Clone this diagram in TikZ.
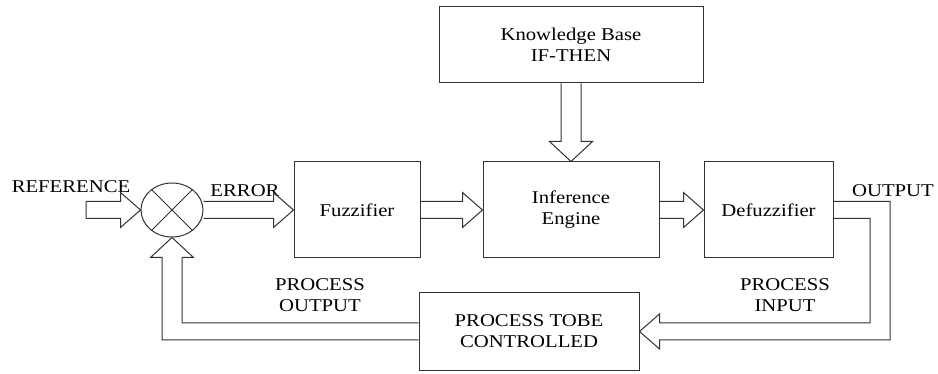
\documentclass[tikz,border=0pt]{standalone}
\usepackage{fontspec}
\setmainfont{Liberation Serif}[FakeStretch=1.15]
\usetikzlibrary{shapes.geometric,calc}

\tikzset{
    block/.style={draw=black!80, line width=1pt, inner sep=0pt, align=center,
        font=\fontsize{18}{21}\selectfont},
    sigtext/.style={inner sep=0pt, align=center, font=\fontsize{18}{21}\selectfont},
    fat/.style={draw=black!80, line width=1pt, line join=miter},
}

% hollow arrow going right, from #1 to tip #2
\newcommand{\fatright}[2]{%
    \draw[fat] ($(#1)+(0,-8.5)$) -- ($(#2)+(-20,-8.5)$) -- ($(#2)+(-20,-17.5)$) -- (#2)
        -- ($(#2)+(-20,17.5)$) -- ($(#2)+(-20,8.5)$) -- ($(#1)+(0,8.5)$);}

\begin{document}
\begin{tikzpicture}[x=1pt, y=-1pt]
    \useasboundingbox (0,0) rectangle (938,374);

    % Blocks
    \node[block, minimum width=264pt, minimum height=76pt] (kb) at (571,45) {Knowledge Base\\IF-THEN};
    \node[block, minimum width=126pt, minimum height=96pt] (fuzz) at (357,210) {Fuzzifier};
    \node[block, minimum width=176pt, minimum height=96pt] (inf) at (571,210) {Inference\\Engine};
    \node[block, minimum width=129pt, minimum height=96pt] (defuzz) at (768.5,210) {Defuzzifier};
    \node[block, minimum width=220pt, minimum height=77pt] (plant) at (529,331.5) {PROCESS TOBE\\CONTROLLED};

    % Summing point
    \node[draw=black!80, line width=1pt, ellipse, minimum width=62pt, minimum height=54pt, inner sep=0pt] (sum) at (172,210) {};
    \draw[black!80, line width=1pt] (sum.45) -- (sum.225);
    \draw[black!80, line width=1pt] (sum.135) -- (sum.315);

    % Signal labels
    \node[sigtext] (reflabel) at (71,187) {REFERENCE};
    \node[sigtext] (errlabel) at (245,190.5) {ERROR};
    \node[sigtext] (outlabel) at (893,191) {OUTPUT};
    \node[sigtext] (pout) at (320,295) {PROCESS\\OUTPUT};
    \node[sigtext] (pin) at (785,295) {PROCESS\\INPUT};

    % Forward path
    \coordinate (ref) at (86,210);
    \draw[fat] ($(ref)+(0,-8.5)$) -- ($(sum.west)+(-20,-8.5)$) -- ($(sum.west)+(-20,-17.5)$) -- (sum.west)
        -- ($(sum.west)+(-20,17.5)$) -- ($(sum.west)+(-20,8.5)$) -- ($(ref)+(0,8.5)$) -- cycle;
    \fatright{sum.east}{fuzz.west}
    \fatright{fuzz.east}{inf.west}
    \fatright{inf.east}{defuzz.west}

    % Rule base into the engine
    \draw[fat] ($(kb.south)+(-10,0)$) -- ($(inf.north)+(-10,-20)$) -- ($(inf.north)+(-21.5,-20)$) -- (inf.north)
        -- ($(inf.north)+(21.5,-20)$) -- ($(inf.north)+(10,-20)$) -- ($(kb.south)+(10,0)$);

    % Output to the process
    \coordinate (bend) at (880,331.5);
    \draw[fat] ($(defuzz.east)+(0,-8.5)$) -| ($(bend)+(10,8.5)$) -- ($(plant.east)+(20,8.5)$)
        -- ($(plant.east)+(20,17.5)$) -- (plant.east) -- ($(plant.east)+(20,-17.5)$)
        -- ($(plant.east)+(20,-8.5)$) -- ($(bend)+(-10,-8.5)$) |- ($(defuzz.east)+(0,8.5)$);

    % Feedback
    \draw[fat] ($(plant.west)+(0,-8.5)$) -| ($(sum.south)+(10,20)$) -- ($(sum.south)+(21.5,20)$) -- (sum.south)
        -- ($(sum.south)+(-21.5,20)$) -- ($(sum.south)+(-10,20)$) |- ($(plant.west)+(0,8.5)$);
\end{tikzpicture}
\end{document}
